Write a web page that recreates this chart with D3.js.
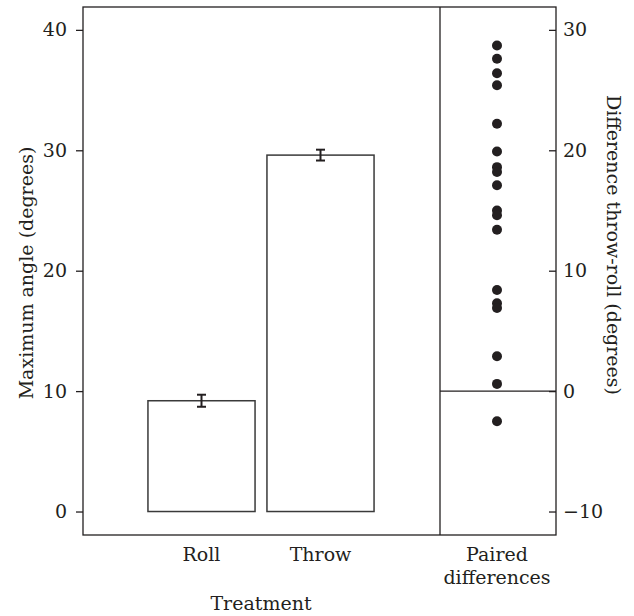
<!DOCTYPE html>
<html>
<head>
<meta charset="utf-8">
<script src="https://cdn.jsdelivr.net/npm/d3@7"></script>
<style>
  body { margin: 0; background: #fff; }
  text { font-family: "DejaVu Serif", serif; fill: #231f20; }
</style>
</head>
<body>
<div id="chart"></div>
<script>
// treatment means with error bars (degrees)
var treatments = ["Roll", "Throw"];
var means = [9.2, 29.6];
var errors = [0.5, 0.45];

// paired differences throw - roll (degrees)
var diffs = [28.7, 27.6, 26.4, 25.4, 22.2, 19.9, 18.6, 18.2, 17.1, 15.0, 14.6, 13.4,
             8.4, 7.3, 6.9, 2.9, 0.6, -2.5];

var leftTicks = [0, 10, 20, 30, 40];
var rightTicks = [-10, 0, 10, 20, 30];

var W = 634, H = 616;
var frame = { left: 83, right: 556, top: 7, bottom: 535 };
var divider = 440;
var fs = "19px";

var svg = d3.select("#chart")
    .append("svg")
    .attr("width", W)
    .attr("height", H);

// left scale (treatment means)
var y = d3.scaleLinear()
    .domain([-1.95, 41.9])
    .range([frame.bottom, frame.top]);

// right scale (differences), offset by 10
var y2 = d3.scaleLinear()
    .domain([-11.95, 31.9])
    .range([frame.bottom, frame.top]);

var x = d3.scaleBand()
    .domain(treatments)
    .range([142, 380])
    .paddingInner(0.1)
    .paddingOuter(0.05);

var xDiff = 497;

// bars
svg.selectAll(".bar")
    .data(treatments)
    .enter().append("rect")
    .attr("x", function (d) { return x(d); })
    .attr("y", function (d, i) { return y(means[i]); })
    .attr("width", x.bandwidth())
    .attr("height", function (d, i) { return y(0) - y(means[i]); })
    .attr("fill", "#fff")
    .attr("stroke", "#3a3a3a")
    .attr("stroke-width", 1.5);

// error bars
var eb = svg.selectAll(".err")
    .data(treatments)
    .enter().append("g")
    .attr("stroke", "#231f20")
    .attr("stroke-width", 2);
eb.append("line")
    .attr("x1", function (d) { return x(d) + x.bandwidth() / 2; })
    .attr("x2", function (d) { return x(d) + x.bandwidth() / 2; })
    .attr("y1", function (d, i) { return y(means[i] - errors[i]); })
    .attr("y2", function (d, i) { return y(means[i] + errors[i]); });
[-1, 1].forEach(function (s) {
    eb.append("line")
        .attr("x1", function (d) { return x(d) + x.bandwidth() / 2 - 4.5; })
        .attr("x2", function (d) { return x(d) + x.bandwidth() / 2 + 4.5; })
        .attr("y1", function (d, i) { return y(means[i] + s * errors[i]); })
        .attr("y2", function (d, i) { return y(means[i] + s * errors[i]); });
});

// zero line for differences
svg.append("line")
    .attr("x1", divider).attr("x2", frame.right)
    .attr("y1", y2(0)).attr("y2", y2(0))
    .attr("stroke", "#231f20").attr("stroke-width", 1.3);

// difference points
svg.selectAll(".dot")
    .data(diffs)
    .enter().append("circle")
    .attr("cx", xDiff)
    .attr("cy", function (d) { return y2(d); })
    .attr("r", 5)
    .attr("fill", "#231f20");

// frame and divider
svg.append("rect")
    .attr("x", frame.left).attr("y", frame.top)
    .attr("width", frame.right - frame.left)
    .attr("height", frame.bottom - frame.top)
    .attr("fill", "none")
    .attr("stroke", "#231f20")
    .attr("stroke-width", 1.3);
svg.append("line")
    .attr("x1", divider).attr("x2", divider)
    .attr("y1", frame.top).attr("y2", frame.bottom)
    .attr("stroke", "#231f20").attr("stroke-width", 1.3);

// axes
var leftAxis = svg.append("g")
    .attr("transform", "translate(" + frame.left + ",0)")
    .call(d3.axisLeft(y).tickValues(leftTicks).tickSize(7).tickPadding(9));
var rightAxis = svg.append("g")
    .attr("transform", "translate(" + frame.right + ",0)")
    .call(d3.axisRight(y2).tickValues(rightTicks).tickSize(-7).tickPadding(7)
        .tickFormat(function (d) { return d < 0 ? "\u2212" + Math.abs(d) : d; }));
[leftAxis, rightAxis].forEach(function (a) {
    a.select(".domain").remove();
    a.selectAll("line").attr("stroke", "#231f20").attr("stroke-width", 1.3);
    a.selectAll("text").style("font-family", "DejaVu Serif, serif")
        .style("font-size", fs).attr("fill", "#231f20");
});

// category labels
svg.selectAll(".cat")
    .data(treatments)
    .enter().append("text")
    .attr("x", function (d) { return x(d) + x.bandwidth() / 2; })
    .attr("y", 561)
    .attr("text-anchor", "middle")
    .style("font-size", fs)
    .text(function (d) { return d; });
svg.append("text")
    .attr("x", xDiff).attr("y", 561)
    .attr("text-anchor", "middle")
    .style("font-size", fs)
    .text("Paired");
svg.append("text")
    .attr("x", xDiff).attr("y", 584)
    .attr("text-anchor", "middle")
    .style("font-size", fs)
    .text("differences");

// axis titles
svg.append("text")
    .attr("x", 261).attr("y", 610)
    .attr("text-anchor", "middle")
    .style("font-size", fs)
    .text("Treatment");
svg.append("text")
    .attr("transform", "translate(33,273) rotate(-90)")
    .attr("text-anchor", "middle")
    .style("font-size", fs)
    .text("Maximum angle (degrees)");
svg.append("text")
    .attr("transform", "translate(607,245) rotate(90)")
    .attr("text-anchor", "middle")
    .style("font-size", fs)
    .text("Difference throw-roll (degrees)");
</script>
</body>
</html>
